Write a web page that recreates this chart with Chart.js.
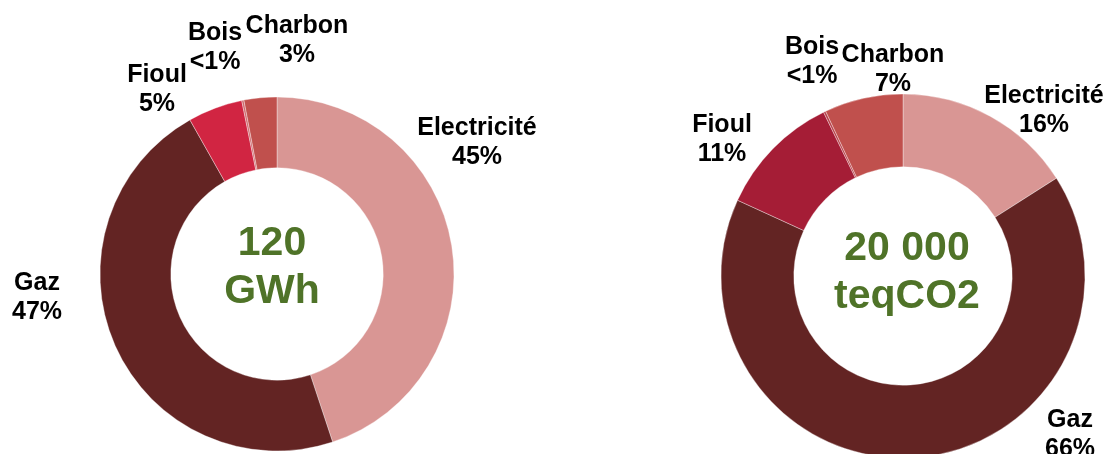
<!DOCTYPE html>
<html>
<head>
<meta charset="utf-8">
<script src="https://cdn.jsdelivr.net/npm/chart.js@4.4.1/dist/chart.umd.min.js"></script>
<style>
  html, body { margin: 0; padding: 0; background: #fff; overflow: hidden; width: 1106px; height: 454px; }
  canvas { position: absolute; }
</style>
</head>
<body>
<canvas id="energie" width="560" height="560"></canvas>
<canvas id="emissions" width="560" height="560"></canvas>
<script>
// Energy sources, listed clockwise from 12 o'clock
const categories = ['Electricité', 'Gaz', 'Fioul', 'Bois', 'Charbon'];

// Share of final energy consumption (%)
const energyShares = [45, 47, 5, 0.2, 3];
// Share of greenhouse-gas emissions (%)
const emissionShares = [16, 66, 11, 0.2, 7];

// Totals printed in the hole of each ring
const energyTotal = ['120', 'GWh'];
const emissionTotal = ['20 000', 'teqCO2'];

const pctText = v => (v < 1 ? '<1%' : Math.round(v) + '%');

const FONT = '"Liberation Sans", Arial, Helvetica, sans-serif';

// Draws the category / percentage labels and the centre total
const sliceLabels = {
  id: 'sliceLabels',
  afterDraw(chart, args, opts) {
    const ctx = chart.ctx;
    const first = chart.getDatasetMeta(0).data[0];
    const cx = first.x, cy = first.y;
    const values = chart.data.datasets[0].data;
    ctx.save();
    ctx.textAlign = 'center';
    ctx.textBaseline = 'alphabetic';
    ctx.fillStyle = '#000';
    ctx.font = 'bold 25px ' + FONT;
    chart.data.labels.forEach((name, i) => {
      const [dx, dy] = opts.offsets[i];
      ctx.fillText(name, cx + dx, cy + dy);
      ctx.fillText(pctText(values[i]), cx + dx, cy + dy + 29);
    });
    ctx.fillStyle = '#4F7328';
    ctx.font = 'bold 41px ' + FONT;
    const [tx, ty] = opts.totalOffset;
    ctx.fillText(opts.total[0], cx + tx, cy + ty);
    ctx.fillText(opts.total[1], cx + tx, cy + ty + 48);
    ctx.restore();
  }
};

function ring(id, centre, radius, values, colors, total, offsets, totalOffset) {
  const el = document.getElementById(id);
  el.style.left = (centre[0] - el.width / 2) + 'px';
  el.style.top = (centre[1] - el.height / 2) + 'px';
  return new Chart(el, {
    type: 'doughnut',
    data: {
      labels: categories,
      datasets: [{
        data: values,
        backgroundColor: colors,
        borderColor: 'rgba(255,255,255,0.45)',
        borderWidth: 0.8
      }]
    },
    options: {
      responsive: false,
      animation: false,
      radius: radius,
      cutout: '60%',
      layout: { padding: 0 },
      plugins: {
        legend: { display: false },
        tooltip: { enabled: false },
        sliceLabels: { offsets: offsets, total: total, totalOffset: totalOffset }
      }
    },
    plugins: [sliceLabels]
  });
}

ring('energie', [277, 274], 177, energyShares,
  ['#D99694', '#632423', '#D12542', '#CF6A6E', '#C0504D'],
  energyTotal,
  [[200, -139], [-240, 16], [-120, -192], [-62, -234], [20, -241]],
  [-5, -19]);

ring('emissions', [903, 276], 182, emissionShares,
  ['#D99694', '#632423', '#A51D36', '#B8414A', '#C0504D'],
  emissionTotal,
  [[141, -173], [167, 151], [-181, -144], [-91, -222], [-10, -214]],
  [4, -16]);
</script>
</body>
</html>
